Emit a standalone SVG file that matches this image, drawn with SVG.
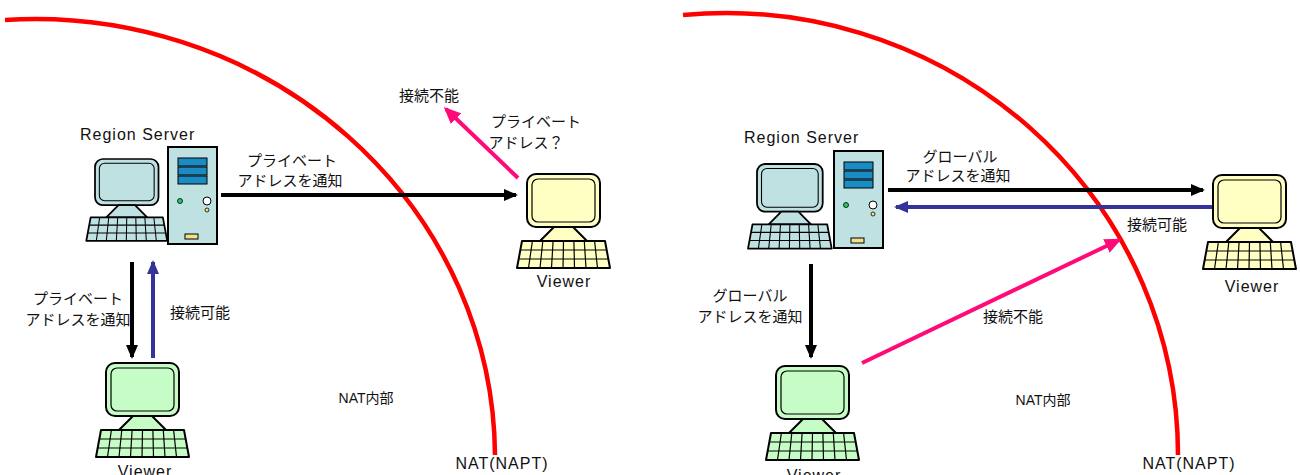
<svg xmlns="http://www.w3.org/2000/svg" xmlns:xlink="http://www.w3.org/1999/xlink" width="1300" height="475" viewBox="0 0 1300 475">
  <style>
    text { font-family: "Liberation Sans", "Noto Sans CJK JP", sans-serif; font-size: 15px; fill: #111; }
    .latin { font-size: 16px; letter-spacing: 1px; }
    .inner { font-size: 14px; }
    .nat { fill: none; stroke: #ff0000; stroke-width: 4.5; }
    .line { stroke-width: 4; fill: none; }
    .black { stroke: #000; }
    .blue { stroke: #333399; }
    .pink { stroke: #ff0a78; }
    .edge { stroke: #000; stroke-width: 2; stroke-linejoin: round; }
    .thin { stroke: #000; stroke-width: 1.2; fill: none; }
    .tower { fill: #bfe1e2; stroke: #000; stroke-width: 2; }
    .bay { fill: #1a8cc4; stroke: #000; stroke-width: 1; }
  </style>
  <defs>
    <marker id="ah-black" markerUnits="userSpaceOnUse" markerWidth="14" markerHeight="12" refX="12" refY="6" orient="auto">
      <path d="M0,0 L14,6 L0,12 z" fill="#000"/>
    </marker>
    <marker id="ah-blue" markerUnits="userSpaceOnUse" markerWidth="14" markerHeight="12" refX="12" refY="6" orient="auto">
      <path d="M0,0 L14,6 L0,12 z" fill="#333399"/>
    </marker>
    <marker id="ah-pink" markerUnits="userSpaceOnUse" markerWidth="17" markerHeight="15" refX="14" refY="7.5" orient="auto">
      <path d="M0,0 L17,7.5 L0,15 z" fill="#ff0a78"/>
    </marker>
    <!-- monitor + keyboard; fill comes from the <use> element -->
    <g id="pc">
      <rect class="edge" x="0" y="0" width="73" height="53" rx="9"/>
      <rect class="thin" x="5" y="5" width="63" height="43" rx="6"/>
      <polygon class="edge" points="27,53 46,53 60,67 13,67"/>
      <polygon class="edge" points="-5,67 78,67 83,94 -10,94"/>
      <path class="thin" d="M-6.7,76 H79.7 M-8.3,85 H81.3
        M5.4,67 L1.5,94 M15.8,67 L13,94 M26.1,67 L24.5,94 M36.5,67 L36,94
        M46.9,67 L47.5,94 M57.3,67 L59,94 M67.6,67 L70.5,94"/>
    </g>
    <!-- tower case -->
    <g id="tower">
      <rect class="tower" x="0" y="0" width="49" height="97"/>
      <rect class="bay" x="10" y="11" width="29" height="8"/>
      <rect class="bay" x="10" y="20" width="29" height="8"/>
      <rect class="bay" x="10" y="29" width="29" height="8"/>
      <circle cx="12" cy="54" r="2.5" fill="#22cc66" stroke="#000" stroke-width="0.8"/>
      <circle cx="39" cy="54" r="4" fill="#fff" stroke="#000" stroke-width="1"/>
      <circle cx="39" cy="63" r="2" fill="#f4e08a" stroke="#000" stroke-width="0.8"/>
      <rect x="17" y="87" width="13" height="5" fill="#f4e08a" stroke="#000" stroke-width="1"/>
    </g>
  </defs>

  <!-- NAT boundaries -->
  <g id="nat-boundaries">
    <path class="nat" d="M5,20 A460,439 0 0 1 495,455"/>
    <path class="nat" d="M683,15 A452,442 0 0 1 1178,455"/>
  </g>

  <!-- connectors -->
  <g id="connectors">
    <line class="line black" x1="221" y1="195" x2="516" y2="195" marker-end="url(#ah-black)"/>
    <line class="line pink" x1="518" y1="178" x2="446" y2="109" marker-end="url(#ah-pink)"/>
    <line class="line black" x1="132" y1="262" x2="132" y2="357" marker-end="url(#ah-black)"/>
    <line class="line blue" x1="153" y1="358" x2="153" y2="262" marker-end="url(#ah-blue)"/>
    <line class="line black" x1="888" y1="190" x2="1203" y2="190" marker-end="url(#ah-black)"/>
    <line class="line blue" x1="1212" y1="207" x2="896" y2="207" marker-end="url(#ah-blue)"/>
    <line class="line black" x1="811" y1="264" x2="811" y2="357" marker-end="url(#ah-black)"/>
    <line class="line pink" x1="862" y1="363" x2="1119" y2="240" marker-end="url(#ah-pink)"/>
  </g>

  <!-- connector labels -->
  <g id="labels" text-anchor="middle">
    <text x="292" y="166">プライベート</text>
    <text x="290" y="186">アドレスを通知</text>
    <text x="429" y="101">接続不能</text>
    <text x="536" y="127">プライベート</text>
    <text x="526" y="148">アドレス？</text>
    <text x="78" y="304">プライベート</text>
    <text x="78" y="325">アドレスを通知</text>
    <text x="200" y="318">接続可能</text>
    <text class="inner" x="366" y="403">NAT内部</text>
    <text class="latin" x="502" y="469">NAT(NAPT)</text>
    <text x="960" y="162">グローバル</text>
    <text x="958" y="181">アドレスを通知</text>
    <text x="1157" y="230">接続可能</text>
    <text x="750" y="301">グローバル</text>
    <text x="750" y="322">アドレスを通知</text>
    <text x="1013" y="322">接続不能</text>
    <text class="inner" x="1043" y="405">NAT内部</text>
    <text class="latin" x="1189" y="469">NAT(NAPT)</text>
  </g>

  <!-- left: region server -->
  <g id="server-left">
    <text class="latin" x="80" y="140">Region Server</text>
    <use xlink:href="#pc" transform="translate(95,159) scale(0.87)" fill="#bfe1e2"/>
    <use xlink:href="#tower" x="168" y="147"/>
  </g>

  <!-- left: external viewer -->
  <g id="viewer-left-outside" text-anchor="middle">
    <use xlink:href="#pc" x="527" y="174" fill="#ffffc4"/>
    <text class="latin" x="564" y="287">Viewer</text>
  </g>

  <!-- left: internal viewer -->
  <g id="viewer-left-inside" text-anchor="middle">
    <use xlink:href="#pc" x="106" y="363" fill="#c6fcc6"/>
    <text class="latin" x="145" y="477">Viewer</text>
  </g>

  <!-- right: region server -->
  <g id="server-right">
    <text class="latin" x="744" y="143">Region Server</text>
    <use xlink:href="#pc" transform="translate(757,164) scale(0.9)" fill="#bfe1e2"/>
    <use xlink:href="#tower" x="834" y="151"/>
  </g>

  <!-- right: external viewer -->
  <g id="viewer-right-outside" text-anchor="middle">
    <use xlink:href="#pc" x="1213" y="175" fill="#ffffc4"/>
    <text class="latin" x="1252" y="292">Viewer</text>
  </g>

  <!-- right: internal viewer -->
  <g id="viewer-right-inside" text-anchor="middle">
    <use xlink:href="#pc" x="776" y="366" fill="#c6fcc6"/>
    <text class="latin" x="814" y="481">Viewer</text>
  </g>
</svg>
